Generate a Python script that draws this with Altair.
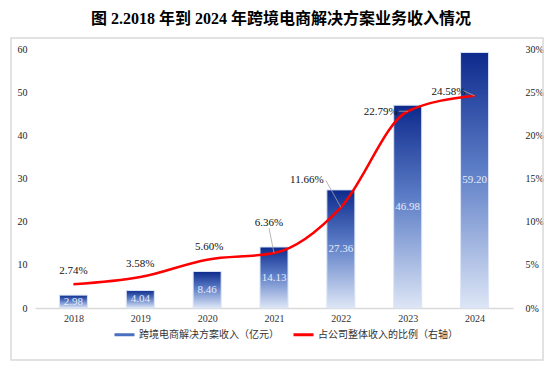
import altair as alt
import pandas as pd

# ---------------- data ----------------
years = [2018, 2019, 2020, 2021, 2022, 2023, 2024]
revenue = [2.98, 4.04, 8.46, 14.13, 27.36, 46.98, 59.20]
revenue_labels = ["2.98", "4.04", "8.46", "14.13", "27.36", "46.98", "59.20"]
share = [2.74, 3.58, 5.60, 6.36, 11.66, 22.79, 24.58]
share_labels = ["2.74%", "3.58%", "5.60%", "6.36%", "11.66%", "22.79%", "24.58%"]
series = ["跨境电商解决方案收入（亿元）", "占公司整体收入的比例（右轴）"]
title_text = "图 2.2018 年到 2024 年跨境电商解决方案业务收入情况"

# label offsets (pixels) for the percentage labels and leader-line starts
label_offsets = [(0, -13), (0, -13), (2, -13), (-5, -30), (-34, -27), (-27, 1), (-26, -4)]
leader_starts = [None, None, None, (-5, -25), (-15, -27), (-9, 0), (-11, -5)]

FONT = "Liberation Serif, Noto Sans CJK SC"

df = pd.DataFrame({
    "year": years,
    "rev": revenue,
    "rev_label": revenue_labels,
    "share": share,
    "share_label": share_labels,
    "series": [series[1]] * len(years),
})
df["mid"] = df["rev"] / 2

x_axis = alt.Axis(values=years, format="d", title=None, ticks=False, grid=False,
                  domainColor="#d9d9d9", domainWidth=1.5, labelFont=FONT,
                  labelFontSize=10, labelColor="#333333", labelPadding=5)
x_scale = alt.Scale(domain=[2017.5, 2024.5], nice=False, zero=False)


def X():
    return alt.X("year:Q", scale=x_scale, axis=x_axis)


yl_axis = alt.Axis(values=[0, 10, 20, 30, 40, 50, 60], title=None, ticks=False,
                   domain=False, grid=False, labelFont=FONT, labelFontSize=10,
                   labelColor="#222222", labelPadding=8)
yl_scale = alt.Scale(domain=[0, 60], nice=False)

yr_axis = alt.Axis(orient="right", values=[0, 5, 10, 15, 20, 25, 30], title=None,
                   ticks=False, domain=False, grid=False, labelFont=FONT,
                   labelFontSize=10, labelColor="#222222", labelPadding=12,
                   labelExpr="datum.value + '%'")
yr_scale = alt.Scale(domain=[0, 30], nice=False)

grad = alt.Gradient(
    gradient="linear",
    stops=[alt.GradientStop(color="#0d2a8c", offset=0),
           alt.GradientStop(color="#5b7cc6", offset=0.45),
           alt.GradientStop(color="#dde6f6", offset=1)],
    x1=0, x2=0, y1=0, y2=1,
)

base = alt.Chart(df)

bars = base.mark_bar(size=28, fill=grad, stroke="#dbe4f5", strokeWidth=1).encode(
    x=X(),
    y=alt.Y("rev:Q", scale=yl_scale, axis=yl_axis),
)

bar_text = base.mark_text(font=FONT, fontSize=11, color="#e6ecf8", baseline="middle").encode(
    x=X(),
    y=alt.Y("mid:Q", scale=yl_scale, axis=yl_axis),
    text="rev_label:N",
)

border = alt.Chart(pd.DataFrame({"a": [0]})).mark_rect(
    fill=None, stroke="#d9d9d9", strokeWidth=1.5
).encode(x=alt.value(-24), x2=alt.value(508), y=alt.value(-11), y2=alt.value(311))

left = alt.layer(border, bars, bar_text)

line = base.mark_line(interpolate="monotone", strokeWidth=2.5).encode(
    x=X(),
    y=alt.Y("share:Q", scale=yr_scale, axis=yr_axis),
    color=alt.Color("series:N", scale=alt.Scale(domain=series, range=["#4a6fc0", "#ff0000"]),
                    legend=alt.Legend(title=None, orient="none", legendX=78, legendY=274,
                                      direction="horizontal", symbolType="stroke",
                                      symbolSize=400, symbolStrokeWidth=3,
                                      labelFont=FONT, labelFontSize=10, labelColor="#333333",
                                      columnPadding=8, labelOffset=3)),
)

right_layers = [line]
for i in range(len(years)):
    row = df.iloc[[i]]
    dx, dy = label_offsets[i]
    right_layers.append(
        alt.Chart(row).mark_text(font=FONT, fontSize=11, color="#111111", dx=dx, dy=dy,
                                 baseline="middle").encode(
            x=X(), y=alt.Y("share:Q", scale=yr_scale, axis=yr_axis), text="share_label:N")
    )
    if leader_starts[i] is not None:
        sx, sy = leader_starts[i]
        right_layers.append(
            alt.Chart(row).mark_rule(color="#a6a6a6", strokeWidth=0.8,
                                     xOffset=sx, yOffset=sy, x2Offset=0, y2Offset=0).encode(
                x=X(), x2="year:Q", y=alt.Y("share:Q", scale=yr_scale, axis=yr_axis),
                y2="share:Q")
        )

right = alt.layer(*right_layers)

chart = alt.layer(left, right).resolve_scale(y="independent").properties(
    width=478,
    height=259,
    autosize=alt.AutoSizeParams(type="none"),
    padding={"left": 27, "top": 41, "right": 32, "bottom": 53},
    title=alt.TitleParams(text=title_text, font=FONT, fontSize=16, fontWeight="bold",
                          color="#000000", anchor="middle", frame="group", offset=10, dx=7),
).configure_view(stroke=None)

chart.save("out.html", embed_options={"renderer": "svg", "actions": False})
